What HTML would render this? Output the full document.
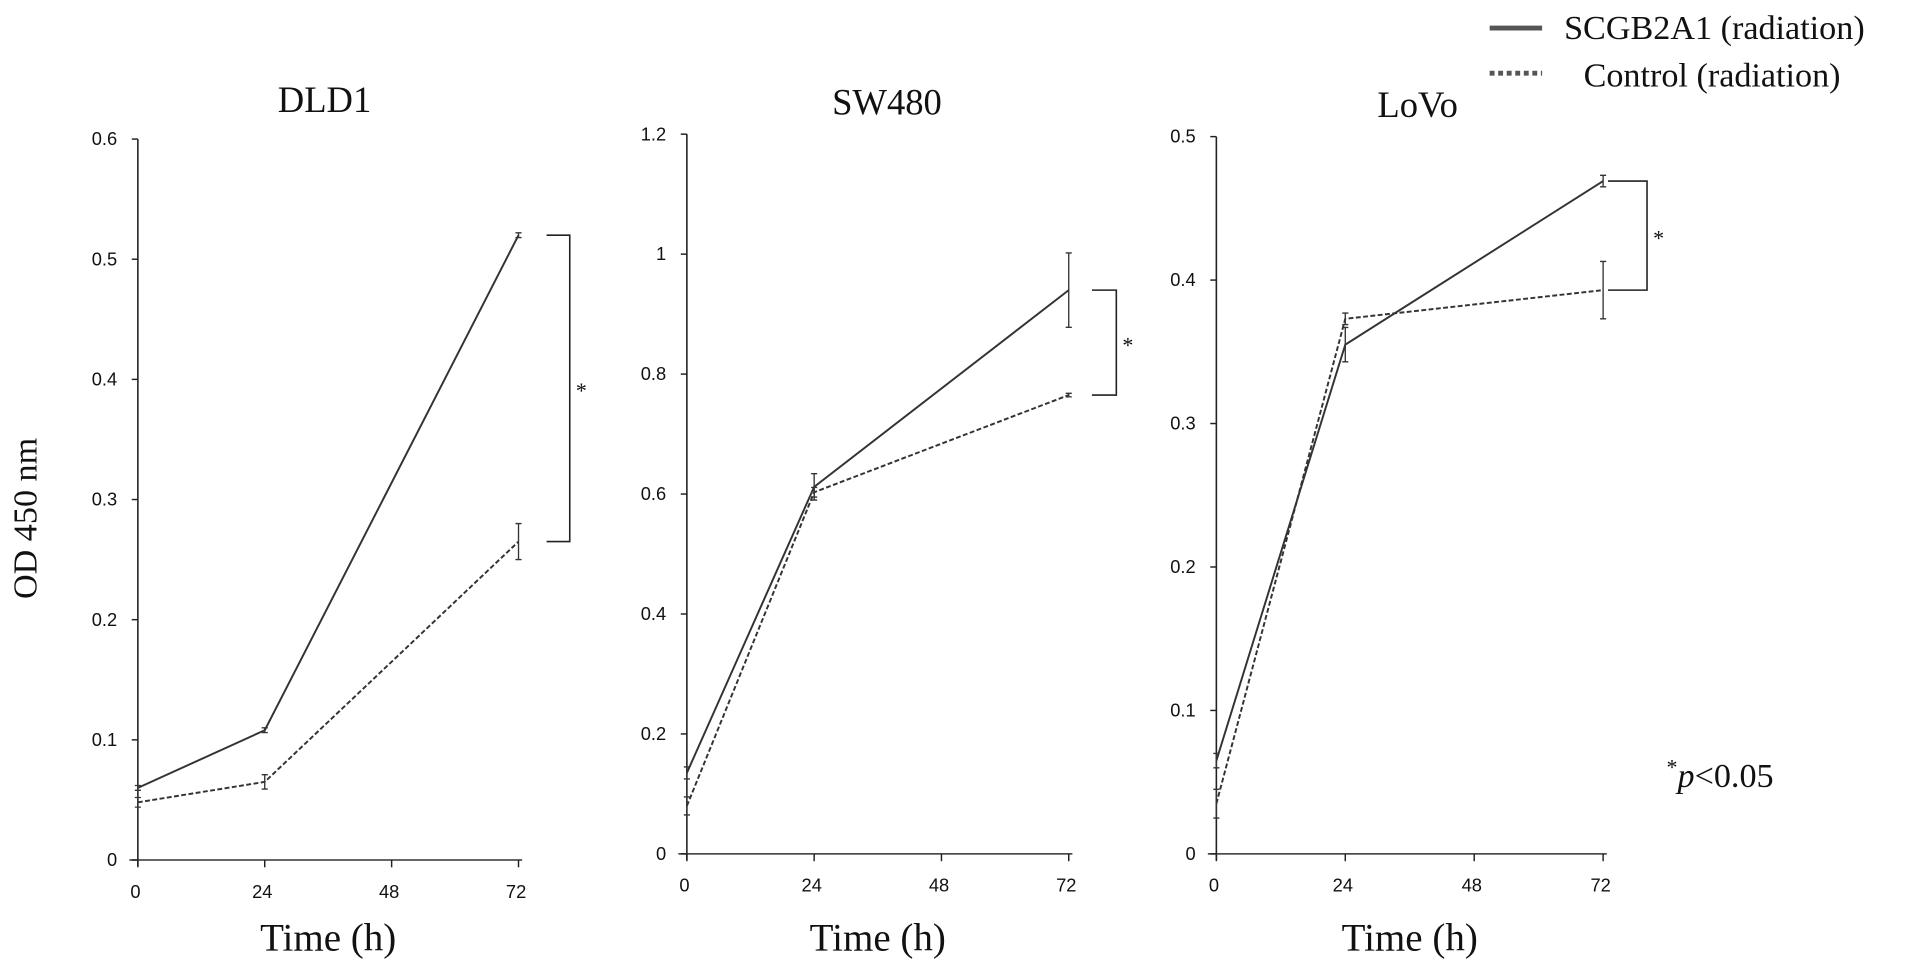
<!DOCTYPE html>
<html><head><meta charset="utf-8"><style>
html,body{margin:0;padding:0;background:#fff;}
svg{display:block;}
.tk{font-family:"Liberation Sans",sans-serif;font-size:15px;fill:#111;}
.sf{font-family:"Liberation Serif",serif;fill:#111;}
</style></head><body>
<svg id="chart" width="1913" height="971" viewBox="0 0 1568 796" preserveAspectRatio="none" xmlns="http://www.w3.org/2000/svg">
<text class="sf" font-size="28" transform="translate(30,425) rotate(-90)" text-anchor="middle">OD 450 nm</text>
<g>
<line x1="1221" y1="23" x2="1264" y2="23" stroke="#555" stroke-width="4"/>
<text class="sf" x="1282" y="32" font-size="28">SCGB2A1 (radiation)</text>
<line x1="1221" y1="60" x2="1264" y2="60" stroke="#555" stroke-width="4" stroke-dasharray="4,3"/>
<text class="sf" x="1298" y="71" font-size="28">Control (radiation)</text>
</g>
<text class="sf" x="1366" y="645" font-size="28"><tspan font-size="18" dy="-10">*</tspan><tspan dy="10" font-style="italic">p</tspan>&lt;0.05</text>
<g id="plots"></g>
</svg>
<script>
const xCats = [0, 24, 72];
const xTicks = [0, 24, 48, 72];
const titles = ["DLD1", "SW480", "LoVo"];
const yMaxes = [0.6, 1.2, 0.5];
const yTickLabels = [["0","0.1","0.2","0.3","0.4","0.5","0.6"],["0","0.2","0.4","0.6","0.8","1","1.2"],["0","0.1","0.2","0.3","0.4","0.5"]];
const scgbVals = [[0.06,0.108,0.52],[0.135,0.612,0.94],[0.065,0.355,0.469]];
const scgbErr = [[0.002,0.002,0.002],[0.01,0.022,0.062],[0.005,0.012,0.004]];
const ctrlVals = [[0.048,0.065,0.265],[0.08,0.603,0.765],[0.035,0.373,0.393]];
const ctrlErr = [[0.004,0.006,0.015],[0.015,0.008,0.003],[0.01,0.004,0.02]];
const layout = [
  {x0:113,x1:425,y0:705,y1:114,bx0:448,bx1:467,tx:266,ty:92,name:"dld1"},
  {x0:563,x1:876,y0:700,y1:110,bx0:895,bx1:915,tx:727,ty:94,name:"sw480"},
  {x0:997,x1:1314,y0:700,y1:112,bx0:1318,bx1:1350,tx:1162,ty:96,name:"lovo"}
];
const NS="http://www.w3.org/2000/svg";
const root=document.getElementById('plots');
function mk(tag,attrs,parent){const e=document.createElementNS(NS,tag);for(const k in attrs)e.setAttribute(k,attrs[k]);parent.appendChild(e);return e;}
layout.forEach((L,i)=>{
  const g=mk('g',{},root);
  
  
  const xs=v=>L.x0+(L.x1-L.x0)*v/72;
  const ys=v=>L.y0-(L.y0-L.y1)*v/yMaxes[i];
  const t=mk('text',{class:'sf',x:L.tx,y:L.ty,'font-size':30,'text-anchor':'middle'},g);t.textContent=titles[i];
  
  
  const xt=mk('text',{class:'sf',x:(L.x0+L.x1)/2,y:779,'font-size':32,'text-anchor':'middle'},g);xt.textContent="Time (h)";
  
  
  const ya=mk('line',{x1:L.x0,y1:ys(yMaxes[i]),x2:L.x0,y2:L.y0+5,stroke:'#222','stroke-width':1.3},g);
  
  
  const xa=mk('line',{x1:L.x0-7,y1:L.y0,x2:L.x1+3,y2:L.y0,stroke:'#333','stroke-width':1.3},g);
  
  
  yTickLabels[i].forEach((lab,k)=>{
    const v=yMaxes[i]*k/(yTickLabels[i].length-1);
    mk('line',{x1:L.x0-5,y1:ys(v),x2:L.x0,y2:ys(v),stroke:'#222','stroke-width':1.2},g);
    const tl=mk('text',{class:'tk',x:L.x0-17,y:ys(v)+5,'text-anchor':'end','font-size':16},g);tl.textContent=lab;
    
    
  });
  xTicks.forEach(v=>{
    mk('line',{x1:xs(v),y1:L.y0,x2:xs(v),y2:L.y0+6,stroke:'#222','stroke-width':1.2},g);
    const tl=mk('text',{class:'tk',x:xs(v)-2,y:L.y0+31,'text-anchor':'middle','font-size':16},g);tl.textContent=String(v);
    
    
  });
  [[scgbVals,scgbErr,'none','scgb2a1-line'],[ctrlVals,ctrlErr,'4,2','control-line']].forEach(([vals,errs,dash,nm])=>{
    const pts=xCats.map((c,j)=>xs(c)+','+ys(vals[i][j])).join(' ');
    const pl=mk('polyline',{points:pts,fill:'none',stroke:'#333','stroke-width':1.6,'stroke-dasharray':dash},g);
    
    
    xCats.forEach((c,j)=>{
      const x=xs(c),a=ys(vals[i][j]+errs[i][j]),b=ys(vals[i][j]-errs[i][j]);
      const eb=mk('path',{d:`M${x},${a}V${b}M${x-2.5},${a}H${x+2.5}M${x-2.5},${b}H${x+2.5}`,stroke:'#333','stroke-width':1.1,fill:'none'},g);
      
      
    });
  });
  const ya1=ys(scgbVals[i][2]),ya2=ys(ctrlVals[i][2]);
  const br=mk('path',{d:`M${L.bx0},${ya1}H${L.bx1}V${ya2}H${L.bx0}`,stroke:'#222','stroke-width':1.3,fill:'none'},g);
  
  
  const st=mk('text',{class:'sf',x:L.bx1+5,y:(ya1+ya2)/2+8,'font-size':18},g);st.textContent="*";
  
  
});
</script>
</body></html>
